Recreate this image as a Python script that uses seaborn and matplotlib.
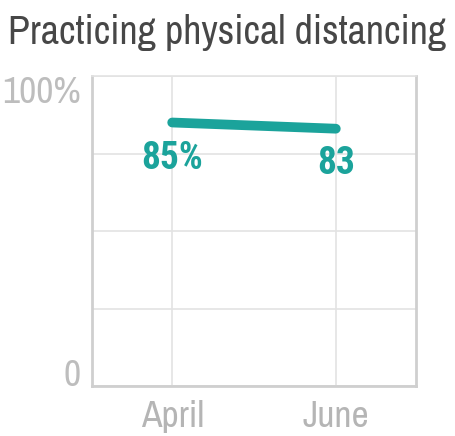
import matplotlib
matplotlib.use("Agg")
import matplotlib.pyplot as plt
import seaborn as sns
from matplotlib import font_manager

months = ["April", "June"]
values = [85, 83]
point_labels = ["85%", "83"]
title = "Practicing physical distancing"
y_ticks = [0, 25, 50, 75, 100]
y_tick_labels = ["0", "", "", "", "100%"]

sns.set_theme(style="white")
names = {f.name for f in font_manager.fontManager.ttflist}
narrow = next((n for n in ["Archivo Narrow", "Liberation Sans Narrow"] if n in names), "DejaVu Sans")
bold_narrow = next((n for n in ["Roboto Condensed", "Encode Sans Condensed", "Barlow Condensed"] if n in names), narrow)
plt.rcParams["font.family"] = [narrow, "DejaVu Sans"]

teal = "#1ba39b"
fig = plt.figure(figsize=(4.56, 4.36), dpi=100)
ax = fig.add_axes([92/456, 50/436, (416-92)/456, (386-76)/436])

sns.lineplot(x=months, y=values, ax=ax, color=teal, linewidth=7,
             solid_capstyle="round", sort=False)

ax.set_ylim(0, 100)
ax.set_xlim(-0.49, 1.49)
ax.set_yticks(y_ticks)
ax.set_yticklabels(y_tick_labels)
ylabs = ax.get_yticklabels()
ylabs[0].set_va("baseline")
ylabs[-1].set_va("top")
ax.tick_params(axis="y", length=0, pad=8, labelsize=27, labelcolor="#bdbdbd")
ax.tick_params(axis="x", length=0, pad=10, labelsize=27, labelcolor="#b5b5b5")
ax.grid(True, color="#e3e3e3", linewidth=1.2)
ax.set_xlabel("")
ax.set_ylabel("")
for side in ["left", "bottom", "right"]:
    ax.spines[side].set_color("#cfcfcf")
    ax.spines[side].set_linewidth(2)
ax.spines["top"].set_color("#e3e3e3")
ax.spines["top"].set_linewidth(1.2)

offsets = [(0, -26), (0, -25)]
for i, (lab, v) in enumerate(zip(point_labels, values)):
    ax.annotate(lab, (i, v), xytext=offsets[i], textcoords="offset points",
                ha="center", va="center", fontsize=27, fontweight="bold",
                family=[bold_narrow, "DejaVu Sans"], color=teal)

fig.text(8/456, 1 - 14/436, title, ha="left", va="top", fontsize=28.8, color="#474747")
fig.savefig("out.png", dpi=100)
